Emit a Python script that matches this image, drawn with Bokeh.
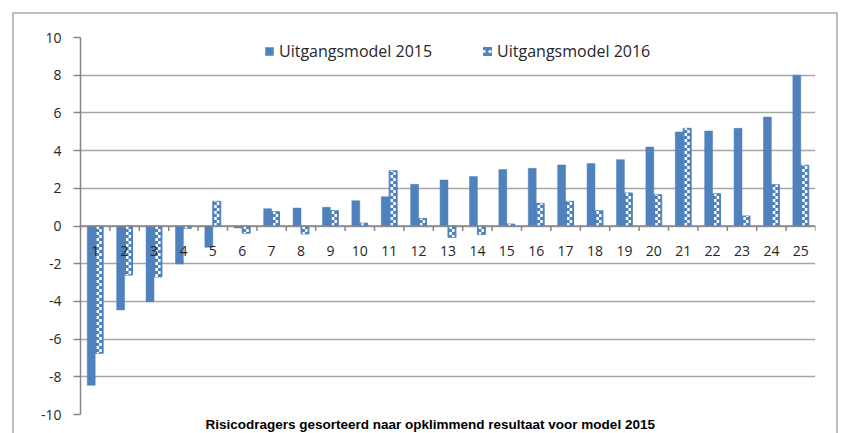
from bokeh.plotting import figure
from bokeh.models import ColumnDataSource, Span, Legend, LegendItem, Title, FixedTicker
from bokeh.core.properties import value
from bokeh.embed import file_html
from bokeh.resources import INLINE

categories = [str(i) for i in range(1, 26)]
model_2015 = [-8.45, -4.45, -4.02, -2.02, -1.13, -0.1, 0.92, 0.95, 0.99, 1.34,
              1.55, 2.21, 2.44, 2.63, 3.0, 3.06, 3.24, 3.31, 3.52, 4.19,
              4.99, 5.04, 5.18, 5.78, 8.0]
model_2016 = [-6.75, -2.6, -2.7, -0.12, 1.31, -0.38, 0.76, -0.42, 0.81, 0.15,
              2.93, 0.4, -0.6, -0.45, 0.1, 1.2, 1.31, 0.81, 1.75, 1.66,
              5.18, 1.71, 0.53, 2.19, 3.22]
y_ticks = [-10, -8, -6, -4, -2, 0, 2, 4, 6, 8, 10]
series_names = ["Uitgangsmodel 2015", "Uitgangsmodel 2016"]
x_title = "Risicodragers gesorteerd naar opklimmend resultaat voor model 2015"

BLUE = "#4F81BD"
GRID = "#A6A6A6"
AXIS = "#868686"
TXT = "#262626"
FRAME = "#BFBFBF"

n = len(categories)
xs = list(range(1, n + 1))
src = ColumnDataSource(dict(
    x15=[x - 0.135 for x in xs], x16=[x + 0.135 for x in xs],
    x16a=[x + 0.135 - 0.045 for x in xs], x16b=[x + 0.135 + 0.045 for x in xs],
    xc=xs, lab=categories, v15=model_2015, v16=model_2016, z=[0] * n,
))
bounds = ColumnDataSource(dict(b=[k + 0.5 for k in range(n + 1)], z=[0] * (n + 1)))

p = figure(width=826, height=421, x_range=(0.5, n + 0.5), y_range=(-10, 10),
           output_backend="svg", toolbar_location=None,
           min_border_left=66, min_border_right=25, min_border_top=23,
           min_border_bottom=21, background_fill_color="white",
           border_fill_color="white", outline_line_color=None)
p.margin = (12, 3, 0, 12)
p.styles = {"border-left": f"2px solid {FRAME}", "border-top": f"2px solid {FRAME}",
            "border-right": f"2px solid {FRAME}", "box-sizing": "border-box"}

p.xaxis.visible = False
p.xgrid.visible = False
p.ygrid.grid_line_color = GRID
p.ygrid.grid_line_width = 1.5
p.yaxis.ticker = FixedTicker(ticks=y_ticks)
p.yaxis.major_label_overrides = {t: str(t) for t in y_ticks}
p.yaxis.axis_line_color = AXIS
p.yaxis.axis_line_width = 1.5
p.yaxis.major_tick_line_color = AXIS
p.yaxis.major_tick_line_width = 1.5
p.yaxis.major_tick_out = 7
p.yaxis.major_tick_in = 0
p.yaxis.minor_tick_line_color = None
p.yaxis.major_label_standoff = 12
p.yaxis.major_label_text_font = "Open Sans"
p.yaxis.major_label_text_font_size = "14px"
p.yaxis.major_label_text_color = TXT

r15 = p.vbar(x="x15", top="v15", bottom="z", width=0.27, source=src,
             fill_color=BLUE, line_color=BLUE, line_width=0.5)
r16 = p.vbar(x="x16", top="v16", bottom="z", width=0.27, source=src,
             fill_color=BLUE, line_color=BLUE, line_width=1)
# checker pattern of the 2016 bars: two offset dashed white columns
s16a = p.segment(x0="x16a", y0="z", x1="x16a", y1="v16", source=src, line_color="white",
                 line_width=2.5, line_dash="3 3", line_cap="butt")
s16b = p.segment(x0="x16b", y0="z", x1="x16b", y1="v16", source=src, line_color="white",
                 line_width=2.5, line_dash="3 3", line_dash_offset=3, line_cap="butt")

# zero axis line with tick marks and category labels
p.add_layout(Span(location=0, dimension="width", line_color=AXIS, line_width=1.5))
p.ray(x="b", y="z", length=5, length_units="screen", angle=-1.5708, source=bounds,
      line_color=AXIS, line_width=1.5)
p.text(x="xc", y="z", text="lab", source=src, text_align="center", text_baseline="middle",
       y_offset=25, text_font=value("Open Sans"), text_font_size="14px", text_color=TXT)

legend = Legend(items=[LegendItem(label=series_names[0], renderers=[r15]),
                       LegendItem(label=series_names[1], renderers=[r16, s16a])],
                orientation="horizontal", location=(184, 352),
                background_fill_alpha=0, border_line_color=None,
                glyph_width=10, glyph_height=10, label_standoff=5, spacing=50,
                padding=0, margin=0,
                label_text_font="Open Sans", label_text_font_size="16px",
                label_text_color=TXT)
p.add_layout(legend)

p.add_layout(Title(text=x_title, align="left", text_font="Liberation Sans",
                   text_font_style="bold", text_font_size="13.5px", text_color="black",
                   standoff=0, offset=125), "below")

open("out.html", "w").write(file_html(p, INLINE))
